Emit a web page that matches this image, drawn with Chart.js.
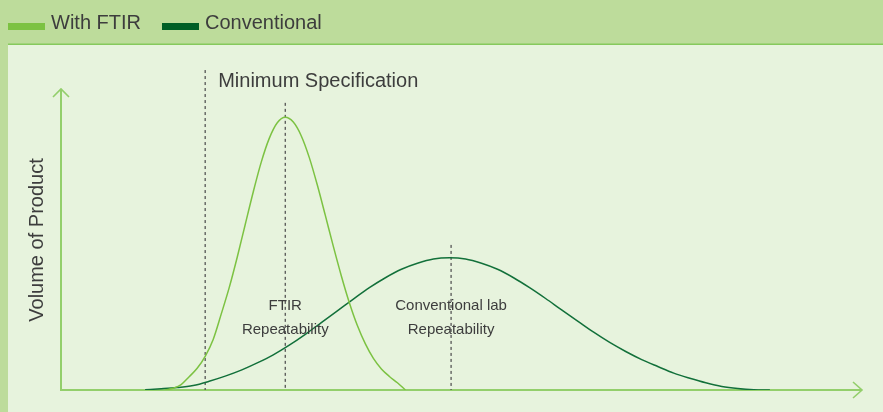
<!DOCTYPE html>
<html>
<head>
<meta charset="utf-8">
<script src="https://cdn.jsdelivr.net/npm/chart.js@4/dist/chart.umd.min.js"></script>
<style>
  html, body { margin: 0; padding: 0; background: #bddc9b; }
  #wrap { width: 883px; height: 412px; }
</style>
</head>
<body>
<div id="wrap"><canvas id="curves" width="883" height="412"></canvas></div>
<script>
// Series (x: arbitrary process scale 0-200, y: volume 0-100)
const seriesNames = ['With FTIR', 'Conventional'];
const seriesColors = ['#7cc242', '#005f26'];

const ftirX = [26, 28, 30, 32, 34, 36, 38, 40, 42, 44, 46, 48, 50, 52, 54, 56,
  58, 60, 62, 64, 66, 68, 70, 72, 74, 76, 78, 80, 82, 84, 86];
const ftirY = [0, 0.6, 1.8, 4.4, 7.2, 11.2, 16.8, 25.2, 34.0, 44.1, 55.0, 65.8, 75.7, 83.6, 88.8, 90.6,
  89.0, 84.4, 77.2, 68.1, 58.0, 47.7, 37.9, 29.0, 21.4, 15.3, 10.5, 7.0, 4.5, 2.4, 0];

const convX = [21, 25, 29, 33, 37, 41, 45, 49, 53, 57, 61, 65, 69, 73, 77, 81, 85, 89, 93, 97,
  101, 105, 109, 113, 117, 121, 125, 129, 133, 137, 141, 145, 149, 153, 157, 161, 165, 169, 173, 177];
const convY = [0.1, 0.4, 0.8, 1.5, 2.9, 4.6, 6.6, 9.0, 11.7, 14.9, 18.5, 22.4, 26.3, 30.2, 34.0, 37.3, 40.1, 42.1, 43.5, 43.9,
  43.5, 42.1, 40.1, 37.3, 34.0, 30.4, 26.6, 22.9, 19.2, 15.8, 12.8, 10.1, 7.8, 5.6, 3.9, 2.4, 1.2, 0.5, 0.1, 0];

// dashed markers: minimum specification, FTIR mean, conventional mean
const markerX = [36, 56, 97.4];
const markerTop = [106.3, 95.4, 48.2];

const yTitle = 'Volume of Product';
const specNote = 'Minimum Specification';
const curveNotes = [['FTIR', 'Repeatability'], ['Conventional lab', 'Repeatability']];

const FONT = '"Liberation Sans", Arial, sans-serif';
const TEXT = '#3d3d3d';

const toPoints = (xs, ys) => xs.map((x, i) => ({ x, y: ys[i] }));

const markerSets = markerX.map((x, i) => ({
  label: '',
  data: [{ x, y: markerTop[i] }, { x, y: 0 }],
  borderColor: '#555',
  borderWidth: 1.3,
  borderDash: [3, 3],
  pointRadius: 0,
  clip: false,
}));

const framePlugin = {
  id: 'frame',
  beforeDraw(chart) {
    const ctx = chart.ctx;
    ctx.save();
    ctx.fillStyle = '#bddc9b';
    ctx.fillRect(0, 0, 883, 412);
    ctx.fillStyle = '#e7f3dd';
    ctx.fillRect(8, 45, 875, 367);
    ctx.fillStyle = '#86c95c';
    ctx.fillRect(8, 43.5, 875, 1.5);

    // legend
    ctx.font = '20px ' + FONT;
    ctx.textBaseline = 'alphabetic';
    let x = 8;
    seriesNames.forEach((name, i) => {
      ctx.fillStyle = seriesColors[i];
      ctx.fillRect(x, 23, 37, 7);
      ctx.fillStyle = TEXT;
      ctx.fillText(name, x + 43, 29);
      x += 43 + ctx.measureText(name).width + 21;
    });

    // y title
    ctx.translate(43, 240);
    ctx.rotate(-Math.PI / 2);
    ctx.textAlign = 'center';
    ctx.fillText(yTitle, 0, 0);
    ctx.restore();
  },
  beforeDatasetsDraw(chart) {
    const { ctx, chartArea: a } = chart;
    ctx.save();
    ctx.strokeStyle = '#93cf6b';
    ctx.lineWidth = 2;
    ctx.beginPath();
    ctx.moveTo(a.left, a.top);
    ctx.lineTo(a.left, a.bottom);
    ctx.lineTo(a.right, a.bottom);
    ctx.stroke();
    ctx.lineWidth = 1.6;
    ctx.beginPath();
    ctx.moveTo(a.left - 8, a.top + 8);
    ctx.lineTo(a.left, a.top);
    ctx.lineTo(a.left + 8, a.top + 8);
    ctx.moveTo(a.right - 9, a.bottom - 8);
    ctx.lineTo(a.right, a.bottom);
    ctx.lineTo(a.right - 9, a.bottom + 8);
    ctx.stroke();
    ctx.restore();
  },
  afterDatasetsDraw(chart) {
    const ctx = chart.ctx;
    const sx = chart.scales.x;
    ctx.save();
    ctx.fillStyle = TEXT;
    ctx.font = '20px ' + FONT;
    ctx.textAlign = 'left';
    ctx.fillText(specNote, sx.getPixelForValue(markerX[0]) + 13, 87);
    ctx.font = '15px ' + FONT;
    ctx.textAlign = 'center';
    curveNotes.forEach((lines, i) => {
      const cx = sx.getPixelForValue(markerX[i + 1]);
      lines.forEach((t, j) => ctx.fillText(t, cx, 310 + j * 24));
    });
    ctx.restore();
  },
};

new Chart(document.getElementById('curves').getContext('2d'), {
  type: 'line',
  data: {
    datasets: [
      {
        label: seriesNames[0],
        data: toPoints(ftirX, ftirY),
        borderColor: '#7cc242',
        borderWidth: 1.5,
        cubicInterpolationMode: 'monotone',
        pointRadius: 0,
      },
      {
        label: seriesNames[1],
        data: toPoints(convX, convY),
        borderColor: '#12703a',
        borderWidth: 1.5,
        cubicInterpolationMode: 'monotone',
        pointRadius: 0,
      },
      ...markerSets,
    ],
  },
  options: {
    responsive: false,
    animation: false,
    devicePixelRatio: 1,
    layout: { padding: { left: 61, right: 21, top: 89, bottom: 22 } },
    scales: {
      x: { type: 'linear', min: 0, max: 200, display: false },
      y: { min: 0, max: 100, display: false },
    },
    plugins: { legend: { display: false }, tooltip: { enabled: false } },
  },
  plugins: [framePlugin],
});
</script>
</body>
</html>
